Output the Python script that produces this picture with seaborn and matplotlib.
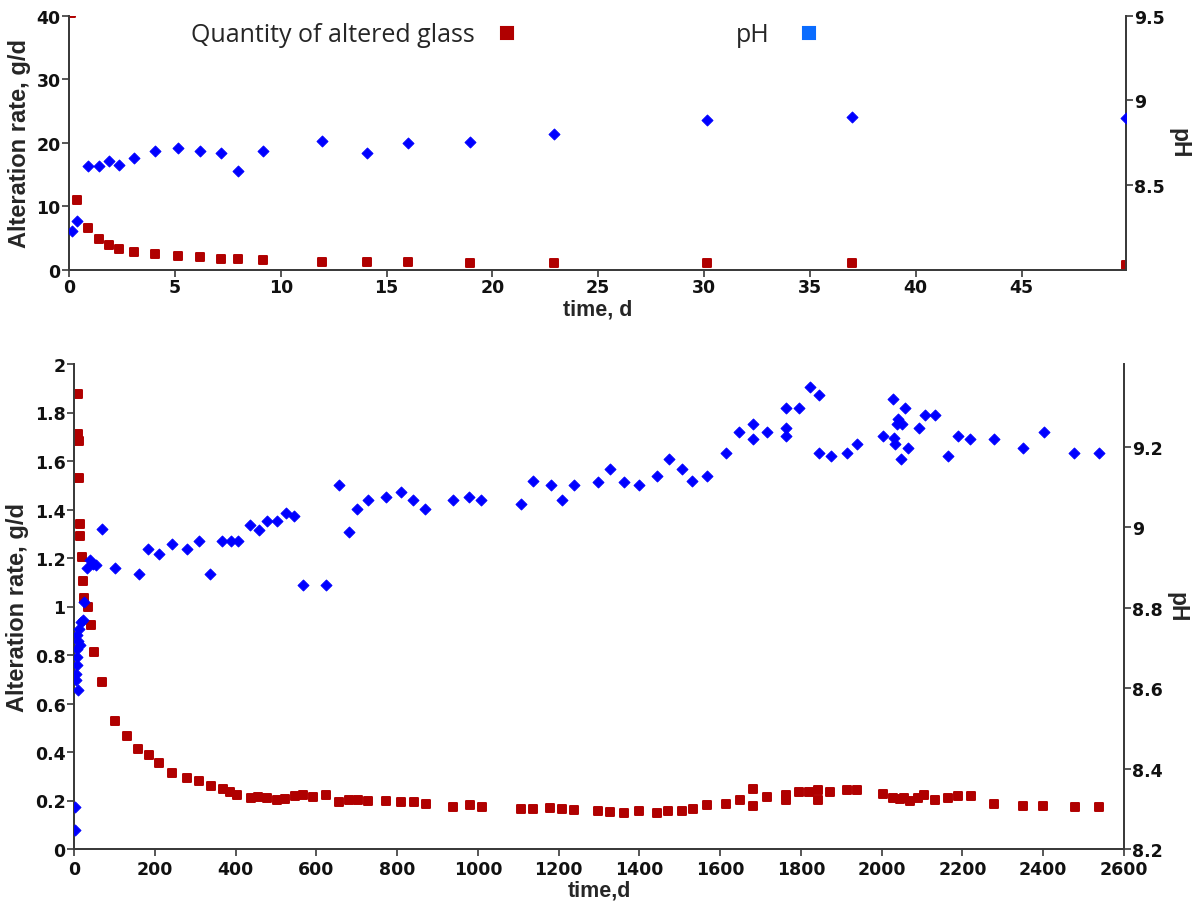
import matplotlib
matplotlib.use('Agg')
import matplotlib.pyplot as plt
from matplotlib.lines import Line2D
from matplotlib.ticker import FuncFormatter
import seaborn as sns

# ---------------- data: first 50 days ----------------
top_glass_t = [0.1, 0.36, 0.91, 1.42, 1.89, 2.38, 3.07, 4.05, 5.17, 6.19, 7.17, 7.98,
               9.18, 11.95, 14.1, 16.0, 18.96, 22.93, 30.15, 37.0, 49.93]
top_glass = [40.5, 10.9, 6.6, 4.9, 3.9, 3.3, 2.8, 2.4, 2.2, 2.0, 1.7, 1.7,
             1.5, 1.25, 1.25, 1.25, 1.0, 1.0, 1.0, 1.0, 0.8]
top_ph_t = [0.16, 0.39, 0.91, 1.42, 1.89, 2.38, 3.07, 4.05, 5.17, 6.19, 7.17, 7.98,
            9.18, 11.95, 14.1, 16.0, 18.96, 22.93, 30.15, 37.0, 49.93]
top_ph = [8.226, 8.29, 8.61, 8.61, 8.64, 8.62, 8.66, 8.70, 8.72, 8.70, 8.69, 8.58,
          8.70, 8.76, 8.69, 8.748, 8.756, 8.80, 8.886, 8.904, 8.896]

# ---------------- data: full experiment ----------------
bot_glass_t = [10.7, 10.7, 12.4, 12.4, 14.9, 14.9, 19, 21.5, 24.8, 35.5, 41.3, 50.3,
               68.5, 101.5, 130.4, 159.3, 186.6, 210, 243.5, 280.6, 309.6, 338.5, 368,
               386, 404.5, 437.5, 456.5, 477, 502, 522.5, 547, 568, 591, 624, 656, 682,
               704, 729, 773, 809, 842, 871, 939, 981, 1010, 1107, 1137, 1179, 1208,
               1239, 1297, 1327, 1362, 1399, 1443, 1472, 1505, 1532, 1567, 1615, 1648,
               1681, 1681, 1715, 1763, 1763, 1796, 1821, 1843, 1843, 1872, 1914, 1938,
               2004, 2029, 2046, 2054, 2069, 2091, 2105, 2132, 2165, 2190, 2221, 2279,
               2351, 2400, 2479, 2537]
bot_glass = [1.876, 1.711, 1.684, 1.53, 1.34, 1.29, 1.203, 1.106, 1.034, 0.999, 0.924, 0.814,
             0.687, 0.529, 0.467, 0.412, 0.388, 0.355, 0.313, 0.291, 0.279, 0.259, 0.247,
             0.236, 0.221, 0.211, 0.216, 0.211, 0.201, 0.207, 0.218, 0.221, 0.215, 0.221,
             0.192, 0.204, 0.204, 0.196, 0.199, 0.192, 0.192, 0.185, 0.174, 0.18, 0.174,
             0.163, 0.164, 0.169, 0.163, 0.16, 0.156, 0.152, 0.148, 0.156, 0.148, 0.156,
             0.156, 0.167, 0.18, 0.186, 0.204, 0.246, 0.178, 0.214, 0.224, 0.203, 0.235,
             0.235, 0.243, 0.202, 0.235, 0.242, 0.242, 0.227, 0.21, 0.205, 0.21, 0.198,
             0.21, 0.224, 0.202, 0.21, 0.217, 0.217, 0.184, 0.178, 0.178, 0.174, 0.174]
bot_ph_t = [2.5, 2.5, 5, 5, 6.7, 6.7, 8.3, 6.7, 10.7, 10.7, 13.3, 14.9, 16.5, 21.5, 24.8,
            33, 39.6, 47.8, 54.5, 68.5, 101.5, 161, 184, 211, 243, 279, 309.6, 337, 366.5,
            389, 407, 436, 458, 477, 502, 524, 545.6, 568, 623, 656, 681, 701.6, 728, 772,
            809, 840, 870, 939, 979, 1008, 1107, 1137, 1181, 1208, 1238, 1297, 1327, 1362,
            1399, 1443, 1474, 1505, 1530, 1567, 1615, 1647, 1681, 1681, 1715, 1762, 1762,
            1762, 1796, 1823, 1845, 1845, 1874, 1913, 1938, 2004, 2029, 2031, 2033, 2041,
            2050, 2037, 2058, 2066, 2048, 2093, 2106, 2132, 2165, 2190, 2219, 2278, 2351,
            2402, 2477, 2537]
bot_ph = [8.248, 8.304, 8.619, 8.635, 8.656, 8.677, 8.698, 8.731, 8.594, 8.718, 8.747, 8.706,
          8.764, 8.768, 8.813, 8.897, 8.917, 8.909, 8.906, 8.994, 8.897, 8.884, 8.946, 8.934,
          8.957, 8.946, 8.964, 8.884, 8.964, 8.964, 8.964, 9.006, 8.993, 9.016, 9.016, 9.036,
          9.028, 8.855, 8.855, 9.104, 8.988, 9.044, 9.066, 9.075, 9.086, 9.066, 9.044, 9.066,
          9.075, 9.066, 9.056, 9.115, 9.105, 9.066, 9.104, 9.113, 9.145, 9.113, 9.104, 9.127,
          9.168, 9.145, 9.114, 9.127, 9.185, 9.236, 9.257, 9.218, 9.236, 9.295, 9.247, 9.226,
          9.295, 9.348, 9.328, 9.185, 9.177, 9.185, 9.207, 9.226, 9.317, 9.220, 9.207, 9.268,
          9.257, 9.257, 9.295, 9.197, 9.168, 9.247, 9.278, 9.278, 9.177, 9.226, 9.218, 9.218,
          9.197, 9.236, 9.185, 9.185]

RED = '#b00000'
BLUE = '#0000ff'
LEG_BLUE = '#0a6cff'
SPINE = '#3a3a3a'

sns.set_style('ticks')
plt.rcParams['font.family'] = ['DejaVu Sans']

W, H = 1195, 903
fig = plt.figure(figsize=(W / 100, H / 100), dpi=100)
ax_top = fig.add_axes([69 / W, 1 - 270.7 / H, (1126 - 69) / W, 254 / H])
ax_bot = fig.add_axes([74 / W, 1 - 850 / H, 1050 / W, 485 / H])


def num(v, pos):
    return f'{v:g}'


def style_axes(ax, ax2, xpad):
    for a in (ax, ax2):
        a.spines['top'].set_visible(False)
        for s in ('left', 'right', 'bottom'):
            a.spines[s].set_color(SPINE)
            a.spines[s].set_linewidth(1.3)
        a.tick_params(direction='out', length=5, width=1.2, color=SPINE,
                      labelsize=12.5, pad=1)
        a.tick_params(axis='x', pad=xpad)
        a.yaxis.set_major_formatter(FuncFormatter(num))
        for lab in a.get_xticklabels() + a.get_yticklabels():
            lab.set_fontweight('bold')
            lab.set_color('#111111')
    ax.set_ylabel('Alteration rate, g/d', fontsize=17, fontweight='bold',
                  family='Liberation Sans', labelpad=4)
    ax2.set_ylabel('pH', fontsize=16.5, fontweight='bold', family='Liberation Sans',
                   rotation=270, labelpad=18)


def draw(ax, t_glass, glass, t_ph, ph):
    sns.scatterplot(x=t_glass, y=glass, ax=ax, marker='s', s=40, color=RED,
                    edgecolor=RED, linewidth=1.4, joinstyle='round', legend=False, zorder=3)
    ax2 = ax.twinx()
    sns.scatterplot(x=t_ph, y=ph, ax=ax2, marker='D', s=32, color=BLUE,
                    edgecolor=BLUE, linewidth=0.6, legend=False, zorder=3)
    return ax2


# top panel: first 50 days
ax2_top = draw(ax_top, top_glass_t, top_glass, top_ph_t, top_ph)
ax_top.set_xlim(0, 49.93)
ax_top.set_ylim(0, 40)
ax_top.set_xticks(range(0, 50, 5))
ax_top.set_yticks([0, 10, 20, 30, 40])
ax2_top.set_ylim(8.0, 9.5)
ax2_top.set_yticks([8.5, 9.0, 9.5])
style_axes(ax_top, ax2_top, 1)
ax_top.set_xlabel('time, d', fontsize=15.5, fontweight='bold', family='Liberation Sans',
                  labelpad=2)

# bottom panel: whole run
ax2_bot = draw(ax_bot, bot_glass_t, bot_glass, bot_ph_t, bot_ph)
ax_bot.set_xlim(0, 2600)
ax_bot.set_ylim(0, 2)
ax_bot.set_xticks(range(0, 2601, 200))
ax_bot.set_yticks([i / 5 for i in range(11)])
ax2_bot.set_ylim(8.2, 9.405)
ax2_bot.set_yticks([8.2, 8.4, 8.6, 8.8, 9.0, 9.2])
style_axes(ax_bot, ax2_bot, 3)
ax_bot.set_xlabel('time,d', fontsize=15.5, fontweight='bold', family='Liberation Sans',
                  labelpad=1)

# legend row above the first panel, marker after the label
h_glass = Line2D([], [], ls='none', marker='s', ms=8, color=RED, mec=RED, mew=1.5)
h_ph = Line2D([], [], ls='none', marker='s', ms=8, color=LEG_BLUE, mec=LEG_BLUE, mew=1.5)
leg_font = {'family': 'Open Sans', 'size': 18}
fig.legend([h_glass], ['Quantity of altered glass'], loc='center left',
           bbox_to_anchor=(181 / W, 1 - 36 / H), markerfirst=False, frameon=False,
           prop=leg_font, handlelength=1.0, handletextpad=0.8, borderaxespad=0)
fig.legend([h_ph], ['pH'], loc='center left',
           bbox_to_anchor=(726 / W, 1 - 36 / H), markerfirst=False, frameon=False,
           prop=leg_font, handlelength=1.0, handletextpad=1.05, borderaxespad=0)

fig.savefig('out.png', dpi=100)
